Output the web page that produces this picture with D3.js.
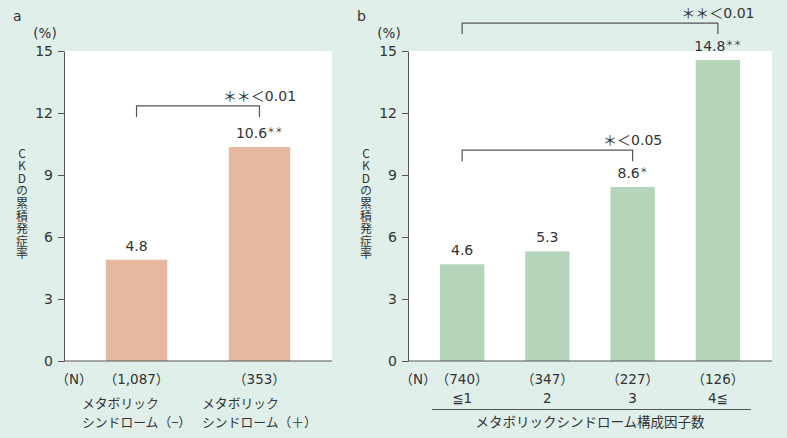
<!DOCTYPE html>
<html>
<head>
<meta charset="utf-8">
<script src="https://cdn.jsdelivr.net/npm/d3@7"></script>
<style>
  body { margin: 0; background: #e0efea; }
  text { font-family: "DejaVu Sans", "Noto Sans CJK JP", sans-serif; fill: #333; }
  .jp { font-family: "Noto Sans CJK JP", sans-serif; }
</style>
</head>
<body>
<div id="chart"></div>
<script>
// y axis ticks (shared)
var yTicks = [0, 3, 6, 9, 12, 15];
var yTitle = "CKDの累積発症率";

// panel a
var catsALine1 = ["メタボリック", "メタボリック"];
var catsALine2 = ["シンドローム（−）", "シンドローム（＋）"];
var nA = ["（1,087）", "（353）"];
var valsA = [4.9, 10.35];
var labelsA = ["4.8", "10.6"];
var starsA = ["", "＊＊"];

// panel b
var catsB = ["≦1", "2", "3", "4≦"];
var nB = ["（740）", "（347）", "（227）", "（126）"];
var valsB = [4.68, 5.3, 8.42, 14.56];
var labelsB = ["4.6", "5.3", "8.6", "14.8"];
var starsB = ["", "", "＊", "＊＊"];
var xTitleB = "メタボリックシンドローム構成因子数";

var svg = d3.select("#chart").append("svg")
  .attr("width", 787)
  .attr("height", 438);

var top0 = 51, bottom0 = 361;
var y = d3.scaleLinear().domain([0, 15]).range([bottom0, top0]);

function panel(opt) {
  var g = svg.append("g");
  var x = d3.scaleBand()
    .domain(d3.range(opt.vals.length))
    .range([opt.left, opt.right])
    .paddingInner(opt.pi)
    .paddingOuter(opt.po);

  // white plot area
  g.append("rect")
    .attr("x", opt.left).attr("y", top0)
    .attr("width", opt.right - opt.left).attr("height", bottom0 - top0)
    .style("fill", "#fff");

  // bars
  g.selectAll(".bar")
    .data(opt.vals)
    .enter().append("rect")
    .attr("class", "bar")
    .attr("x", function(d, i) { return x(i); })
    .attr("y", function(d) { return y(d); })
    .attr("width", x.bandwidth())
    .attr("height", function(d) { return y(0) - y(d); })
    .style("fill", opt.color);

  // value labels
  var vl = g.selectAll(".vlab")
    .data(opt.vals)
    .enter().append("text")
    .attr("class", "vlab")
    .attr("x", function(d, i) { return x(i) + x.bandwidth() / 2; })
    .attr("y", function(d) { return y(d) - 9; })
    .attr("text-anchor", "middle")
    .style("font-size", "14px");
  vl.append("tspan").text(function(d, i) { return opt.labels[i]; });
  vl.append("tspan")
    .attr("dy", -5)
    .style("font-size", "8px")
    .text(function(d, i) { return opt.stars[i]; });

  // y axis
  var ax = g.append("g")
    .attr("transform", "translate(" + opt.left + ",0)")
    .call(d3.axisLeft(y).tickValues(yTicks).tickSize(6).tickSizeOuter(0).tickPadding(5));
  ax.select(".domain").style("stroke", "#555");
  ax.selectAll(".tick line").style("stroke", "#555");
  ax.selectAll(".tick text").style("font-size", "14px").style("fill", "#333")
    .style("font-family", "'DejaVu Sans', sans-serif");

  // x baseline
  g.append("line")
    .attr("x1", opt.left).attr("x2", opt.right)
    .attr("y1", y(0)).attr("y2", y(0))
    .style("stroke", "#555");

  // panel letter and unit
  g.append("text").attr("x", opt.left - 51).attr("y", 21).text(opt.letter).style("font-size", "14px");
  g.append("text").attr("x", opt.left - 19).attr("y", 38).attr("text-anchor", "middle")
    .text("(%)").style("font-size", "13.5px");

  // vertical y title
  g.append("text")
    .attr("class", "jp")
    .attr("x", opt.left - 42)
    .attr("y", 147)
    .style("writing-mode", "vertical-rl")
    .style("text-orientation", "upright")
    .style("letter-spacing", "0.6px")
    .style("font-size", "12px")
    .text(yTitle);

  // N labels
  g.append("text").attr("x", opt.left + 10).attr("y", 384).attr("text-anchor", "middle")
    .style("font-size", "13.5px").text("（N）");
  g.selectAll(".nlab")
    .data(opt.n)
    .enter().append("text")
    .attr("x", function(d, i) { return x(i) + x.bandwidth() / 2; })
    .attr("y", 384)
    .attr("text-anchor", "middle")
    .style("font-size", "13.5px")
    .text(function(d) { return d; });

  // significance brackets
  opt.sig.forEach(function(s) {
    var x1 = x(s.from) + x.bandwidth() / 2, x2 = x(s.to) + x.bandwidth() / 2;
    var yl = y(s.level), yl2 = y(s.level) + 11;
    g.append("path")
      .attr("d", "M" + x1 + "," + yl2 + "V" + yl + "H" + x2 + "V" + yl2)
      .style("fill", "none").style("stroke", "#555").style("stroke-width", 1.2);
    g.append("text").attr("x", x2).attr("y", yl - 5).attr("text-anchor", "middle")
      .style("font-size", "14px").text(s.text);
  });

  return x;
}

var xa = panel({
  left: 64, right: 332, pi: 0.5, po: 0.34,
  vals: valsA, labels: labelsA, stars: starsA, n: nA,
  color: "#e6b8a0", letter: "a",
  sig: [{ from: 0, to: 1, level: 12.34, text: "＊＊＜0.01" }]
});

var xb = panel({
  left: 408, right: 772, pi: 0.48, po: 0.375,
  vals: valsB, labels: labelsB, stars: starsB, n: nB,
  color: "#b5d5ba", letter: "b",
  sig: [{ from: 0, to: 2, level: 10.2, text: "＊＜0.05" },
        { from: 0, to: 3, level: 16.35, text: "＊＊＜0.01" }]
});

// panel a category labels (two lines, left aligned)
catsALine2.forEach(function(t, i) {
  var cx = xa(i) + xa.bandwidth() / 2;
  var l2 = svg.append("text").attr("class", "jp").attr("x", cx).attr("y", 427).attr("text-anchor", "middle")
    .style("font-size", "12.8px").text(t);
  var bx = l2.node().getBBox().x;
  svg.append("text").attr("class", "jp").attr("x", bx).attr("y", 408)
    .style("font-size", "12.8px").text(catsALine1[i]);
});

// panel b categories
svg.selectAll(".catb")
  .data(catsB)
  .enter().append("text")
  .attr("x", function(d, i) { return xb(i) + xb.bandwidth() / 2; })
  .attr("y", 403)
  .attr("text-anchor", "middle")
  .style("font-size", "13.5px")
  .text(function(d) { return d; });

svg.append("line")
  .attr("x1", 432).attr("x2", 751).attr("y1", 409.5).attr("y2", 409.5)
  .style("stroke", "#555");

svg.append("text")
  .attr("class", "jp")
  .attr("x", (xb(0) + xb(3) + xb.bandwidth()) / 2)
  .attr("y", 427)
  .attr("text-anchor", "middle")
  .style("font-size", "13.5px")
  .text(xTitleB);
</script>
</body>
</html>
